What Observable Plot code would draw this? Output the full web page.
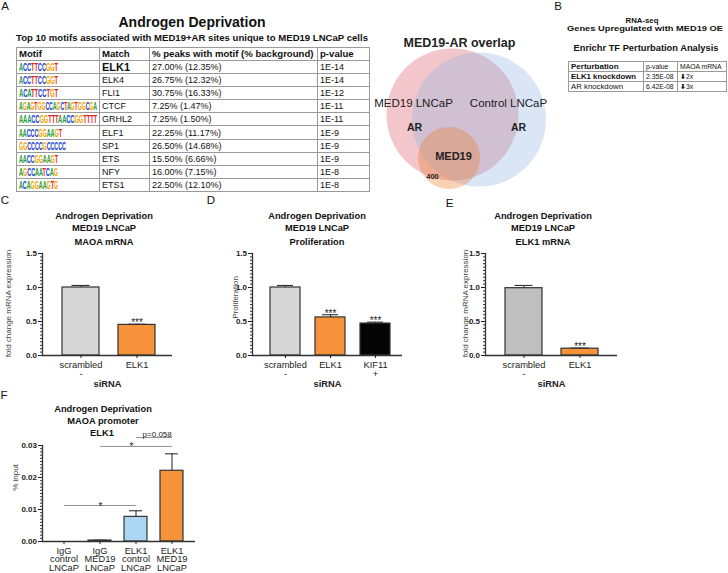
<!DOCTYPE html>
<html><head><meta charset="utf-8">
<script src="https://cdn.jsdelivr.net/npm/d3@7"></script>
<script src="https://cdn.jsdelivr.net/npm/@observablehq/plot@0.6"></script>
<style>
body{margin:0;background:#fff;font-family:"Liberation Sans",Arial,Helvetica,sans-serif;color:#111}
#fig{position:relative;width:728px;height:573px;overflow:hidden;background:#fff}
.abs{position:absolute;white-space:nowrap;line-height:1}
.plot{position:absolute}
table{position:absolute;border-collapse:collapse;table-layout:fixed}
td{border:1px solid #9a9a9a;padding:0 0 0 2px;white-space:nowrap;overflow:hidden;vertical-align:middle}
.logo{display:inline-block;transform-origin:left center;font-weight:bold;font-size:9.5px;letter-spacing:-0.2px;line-height:1}
</style></head><body><div id="fig"></div>
<script>
// ================= DATA =================
// Panel A: motif table
const motifLogos = ["ACCTTCCGGT","ACCTTCCGGT","ACATTCCTGT","AGAGTGGCCAGCTAGTGGCGA","AAACCGGTTTAACCGGTTTT","AACCCGGAAGT","GGCCCCGCCCCC","AACCGGAAGT","AGCCAATCAG","ACAGGAAGTG"];
const motifMatches = ["ELK1","ELK4","FLI1","CTCF","GRHL2","ELF1","SP1","ETS","NFY","ETS1"];
const motifPeaks = ["27.00% (12.35%)","26.75% (12.32%)","30.75% (16.33%)","7.25% (1.47%)","7.25% (1.50%)","22.25% (11.17%)","26.50% (14.68%)","15.50% (6.66%)","16.00% (7.15%)","22.50% (12.10%)"];
const motifPvals = ["1E-14","1E-14","1E-12","1E-11","1E-11","1E-9","1E-9","1E-9","1E-8","1E-8"];
const motifHeader = ["Motif","Match","% peaks with motif (% background)","p-value"];

// Panel B: Enrichr table
const enrHeader = ["Perturbation","p-value","MAOA mRNA"];
const enrPert = ["ELK1 knockdown","AR knockdown"];
const enrP = ["2.35E-08","6.42E-08"];
const enrFold = ["2x","3x"];

// Venn (geometry in abstract units)
const vennSets = ["MED19 LNCaP AR","Control LNCaP AR","MED19"];
const vennCx = [0, 26.5, -3.5];
const vennCy = [0, 5, 43.5];
const vennR = [66, 67, 31];
const vennCount = "400";

// Panel C
const cCats = ["scrambled","ELK1"];
const cXLabels = ["scrambled\n-","ELK1"];
const cValues = [1.00, 0.45];
const cErrors = [0.03, 0.01];
const cSig = ["", "***"];

// Panel D
const dCats = ["scrambled","ELK1","KIF11"];
const dXLabels = ["scrambled\n-","ELK1","KIF11\n+"];
const dValues = [1.00, 0.56, 0.47];
const dErrors = [0.03, 0.04, 0.02];
const dSig = ["", "***", "***"];

// Panel E
const eCats = ["scrambled","ELK1"];
const eXLabels = ["scrambled\n-","ELK1"];
const eValues = [0.99, 0.10];
const eErrors = [0.04, 0.01];
const eSig = ["", "***"];

// Panel F
const fCats = ["IgG control","IgG MED19","ELK1 control","ELK1 MED19"];
const fXLabels = ["IgG\ncontrol\nLNCaP","IgG\nMED19\nLNCaP","ELK1\ncontrol\nLNCaP","ELK1\nMED19\nLNCaP"];
const fValues = [0.0000, 0.0003, 0.0077, 0.0221];
const fErrors = [0.0000, 0.0001, 0.0019, 0.0053];
const fSigFrom = ["IgG control","IgG MED19","ELK1 control"];
const fSigTo = ["ELK1 control","ELK1 MED19","ELK1 MED19"];
const fSigY = [0.01125, 0.0297, 0.0325];
const fSigLabel = ["*","*","p=0.058"];

const yTicks15 = [0, 0.5, 1.0, 1.5];
const yTicksF = [0, 0.01, 0.02, 0.03];

// ================= LAYOUT =================
const fig = document.getElementById("fig");
const FONT = '"Liberation Sans", Arial, Helvetica, sans-serif';

function put(txt, cx, cy, css, fitW) {
  const d = document.createElement("div");
  d.className = "abs";
  d.textContent = txt;
  d.style.cssText += `left:${cx}px;top:${cy}px;` + (css || "");
  fig.appendChild(d);
  const w = d.getBoundingClientRect().width;
  const sx = fitW ? fitW / w : 1;
  d.style.transform = `translate(-50%,-50%) scaleX(${sx})`;
  return d;
}

// panel letters
put("A", 5, 7, "font-size:11.5px");
put("B", 558, 7, "font-size:11.5px");
put("C", 5, 201, "font-size:11.5px");
put("D", 211, 201, "font-size:11.5px");
put("E", 449.5, 204, "font-size:11.5px");
put("F", 4, 396, "font-size:11.5px");

// ---- Panel A ----
put("Androgen Deprivation", 192, 22, "font-size:14.5px;font-weight:bold", 147);
put("Top 10 motifs associated with MED19+AR sites unique to MED19 LNCaP cells", 192, 37.5, "font-size:8.7px;font-weight:bold", 352);

const baseColors = {A:"#1f9e3a", C:"#2040d0", G:"#f0a400", T:"#e02020"};
function logoHTML(seq) {
  return `<span class="logo">` + [...seq].map(ch => `<span style="color:${baseColors[ch]}">${ch}</span>`).join("") + `</span>`;
}
(function motifTable(){
  const t = document.createElement("table");
  t.style.cssText = "left:16px;top:47px;width:353px;font-size:9px";
  const colW = [83, 50, 168, 52];
  let html = "<colgroup>" + colW.map(w => `<col style="width:${w}px">`).join("") + "</colgroup>";
  html += "<tr>" + motifHeader.map(h => `<td style="height:11.5px;font-weight:bold;font-size:9.6px">${h}</td>`).join("") + "</tr>";
  motifMatches.forEach((m, i) => {
    const matchCss = i === 0 ? "font-weight:bold;font-size:11px" : "";
    html += `<tr><td style="height:12.2px">${logoHTML(motifLogos[i])}</td><td style="${matchCss}">${m}</td><td>${motifPeaks[i]}</td><td>${motifPvals[i]}</td></tr>`;
  });
  t.innerHTML = html;
  fig.appendChild(t);
  t.querySelectorAll(".logo").forEach((el, i) => {
    const w = el.getBoundingClientRect().width;
    const target = Math.min(motifLogos[i].length * 3.9, 78);
    el.style.transform = `scaleX(${target / w}) scaleY(1.2)`;
  });
})();

// ---- Panel B ----
put("RNA-seq", 642, 20.5, "font-size:7.8px;font-weight:bold");
put("Genes Upregulated with MED19 OE", 645, 28.5, "font-size:7.8px;font-weight:bold", 156);
put("Enrichr TF Perturbation Analysis", 645.5, 49, "font-size:8.2px;font-weight:bold", 145);
(function enrTable(){
  const t = document.createElement("table");
  t.style.cssText = "left:568px;top:61px;width:158px;font-size:6.8px";
  const colW = [75, 34, 49];
  let html = "<colgroup>" + colW.map(w => `<col style="width:${w}px">`).join("") + "</colgroup>";
  html += `<tr><td style="height:8.6px;font-weight:bold;font-size:8px">${enrHeader[0]}</td><td>${enrHeader[1]}</td><td>${enrHeader[2]}</td></tr>`;
  enrPert.forEach((p, i) => {
    const css = i === 0 ? "font-weight:bold;font-size:7.8px" : "font-size:7.8px";
    html += `<tr><td style="height:8.6px;${css}">${p}</td><td>${enrP[i]}</td><td><span style="font-family:'DejaVu Sans';font-weight:bold;font-size:7px">&#x2B07;</span>${enrFold[i]}</td></tr>`;
  });
  t.innerHTML = html;
  fig.appendChild(t);
})();

// ---- Venn ----
(function venn(){
  const vennFill = ["#e07880", "#8db2e2", "#ec7a2a"];
  const vennOp = [0.42, 0.32, 0.34];
  const data = vennSets.map((s, i) => ({set: s, x: vennCx[i], y: vennCy[i], r: vennR[i], fill: vennFill[i], op: vennOp[i]}));
  const red = data[0], blue = data[1], orange = data[2];
  const labels = [
    {t: "MED19-AR overlap", x: red.x + 7, y: red.y - 72, s: 12.5, w: "bold"},
    {t: "MED19 LNCaP", x: red.x - 39, y: red.y - 11, s: 11.5, w: "normal"},
    {t: "Control LNCaP", x: blue.x + 29.5, y: blue.y - 16, s: 11.5, w: "normal"},
    {t: "AR", x: red.x - 38, y: red.y + 13, s: 10.5, w: "bold"},
    {t: "AR", x: blue.x + 39.5, y: blue.y + 8, s: 10.5, w: "bold"},
    {t: "MED19", x: orange.x + 4.5, y: orange.y - 1.5, s: 11, w: "bold"},
    {t: vennCount, x: orange.x - 16.5, y: orange.y + 18.5, s: 7.5, w: "bold"}
  ];
  const marks = data.map(d => Plot.dot([d], {x: "x", y: "y", r: "r", fill: d.fill, fillOpacity: d.op, stroke: null}));
  for (const l of labels) marks.push(Plot.text([l], {x: "x", y: "y", text: "t", fontSize: l.s, fontWeight: l.w, fill: "#222"}));
  const p = Plot.plot({
    width: 220, height: 180, margin: 0,
    x: {domain: [-92, 128], axis: null},
    y: {domain: [-84, 96], reverse: true, axis: null},
    r: {type: "identity"},
    style: {fontFamily: FONT, background: "transparent", overflow: "visible"},
    marks
  });
  p.classList.add("plot");
  p.style.left = "360px"; p.style.top = "30px";
  fig.appendChild(p);
})();

// ---- Bar charts ----
function barChart(cfg) {
  const data = cfg.cats.map((c, i) => ({cat: c, value: cfg.values[i], err: cfg.errors[i], fill: cfg.fills[i], sig: cfg.sigs ? cfg.sigs[i] : ""}));
  const withErr = data.filter(d => d.err > 0);
  const ax = "#333";
  const marks = [
    Plot.barY(data, {x: "cat", y: "value", fill: "fill", stroke: ax, strokeWidth: 1.2}),
    Plot.ruleX(withErr, {x: "cat", y1: "value", y2: d => d.value + d.err, stroke: ax, strokeWidth: 1.1}),
    Plot.tickY(withErr, {x: "cat", y: d => d.value + d.err, stroke: ax, strokeWidth: 1.1, insetLeft: cfg.capInset, insetRight: cfg.capInset}),
    Plot.text(data.filter(d => d.sig), {x: "cat", y: d => d.value + d.err, text: "sig", lineAnchor: "bottom", dy: cfg.sigDy, fontSize: 10, fill: "#222"}),
    Plot.ruleY([0], {stroke: ax, strokeWidth: 1.3}),
    Plot.frame({anchor: "left", stroke: ax, strokeWidth: 1.3}),
    Plot.axisY({ticks: cfg.yMinor, tickSize: 2, tickFormat: () => "", color: ax, label: null}),
    Plot.axisY({ticks: cfg.yTicks, tickSize: 4, tickPadding: 1.5, tickFormat: cfg.yFmt, fontWeight: "bold", fontSize: 8, color: "#222", label: null}),
    Plot.axisX({tickFormat: c => cfg.xLabels[cfg.cats.indexOf(c)], tickSize: 3, tickPadding: 3, fontSize: 9.3, lineHeight: cfg.lineHeight, color: "#222", label: null}),
    Plot.text([cfg.yLabel], {frameAnchor: "left", textAnchor: "middle", lineAnchor: "middle", rotate: -90, dx: cfg.yLabelDx, dy: cfg.yLabelDy, fontSize: 8, fill: "#444"})
  ];
  if (cfg.xTitle) marks.push(Plot.text([cfg.xTitle], {frameAnchor: "bottom", textAnchor: "middle", lineAnchor: "middle", dy: cfg.xTitleDy, fontWeight: "bold", fontSize: 9.3, fill: "#222"}));
  if (cfg.extra) marks.push(...cfg.extra);
  const p = Plot.plot({
    width: cfg.width, height: cfg.height,
    marginTop: cfg.mt, marginRight: cfg.mr, marginBottom: cfg.mb, marginLeft: cfg.ml,
    x: {domain: cfg.cats, range: cfg.xRange, paddingInner: cfg.pad, paddingOuter: cfg.pad / 2},
    y: {domain: cfg.yDomain},
    color: {type: "identity"},
    style: {fontFamily: FONT, background: "transparent", overflow: "visible", color: "#222"},
    marks
  });
  p.classList.add("plot");
  p.style.left = cfg.left + "px"; p.style.top = cfg.top + "px";
  fig.appendChild(p);
}

const minor15 = d3.range(0, 1.5001, 0.05);
const minorF = d3.range(0, 0.03001, 0.001);
const ORANGE = "#f5923a";

// Panel C
put("Androgen Deprivation", 104, 217, "font-size:9.3px;font-weight:bold");
put("MED19 LNCaP", 104, 229, "font-size:9.3px;font-weight:bold");
put("MAOA mRNA", 104, 243, "font-size:9.3px;font-weight:bold");
barChart({left: 0, top: 240, width: 185, height: 150, mt: 13, mr: 13, mb: 35, ml: 42,
  cats: cCats, xLabels: cXLabels, values: cValues, errors: cErrors, sigs: cSig,
  fills: ["#d6d6d6", ORANGE], xRange: [52, 164], pad: 0.34, capInset: 9.5, sigDy: 2,
  yDomain: [0, 1.5], yTicks: yTicks15, yMinor: minor15, yFmt: d3.format(".1f"),
  yLabel: "fold change mRNA expression", yLabelDx: -34, yLabelDy: -1,
  xTitle: "siRNA", xTitleDy: 29, lineHeight: 1.0});

// Panel D
put("Androgen Deprivation", 317, 217, "font-size:9.3px;font-weight:bold");
put("MED19 LNCaP", 317, 229, "font-size:9.3px;font-weight:bold");
put("Proliferation", 317, 243, "font-size:9.3px;font-weight:bold");
barChart({left: 215, top: 240, width: 192, height: 150, mt: 13, mr: 5, mb: 35, ml: 37,
  cats: dCats, xLabels: dXLabels, values: dValues, errors: dErrors, sigs: dSig,
  fills: ["#d6d6d6", ORANGE, "#050505"], xRange: [46.25, 182.75], pad: 0.34, capInset: 7, sigDy: 2,
  yDomain: [0, 1.5], yTicks: yTicks15, yMinor: minor15, yFmt: d3.format(".1f"),
  yLabel: "Proliferation", yLabelDx: -17, yLabelDy: -7,
  xTitle: "siRNA", xTitleDy: 29, lineHeight: 1.0});

// Panel E
put("Androgen Deprivation", 543, 217, "font-size:9.3px;font-weight:bold");
put("MED19 LNCaP", 543, 229, "font-size:9.3px;font-weight:bold");
put("ELK1 mRNA", 543, 243, "font-size:9.3px;font-weight:bold");
barChart({left: 445, top: 240, width: 180, height: 150, mt: 13, mr: 8, mb: 35, ml: 40,
  cats: eCats, xLabels: eXLabels, values: eValues, errors: eErrors, sigs: eSig,
  fills: ["#bfbfbf", ORANGE], xRange: [50.5, 162.5], pad: 0.34, capInset: 9.5, sigDy: 2,
  yDomain: [0, 1.5], yTicks: yTicks15, yMinor: minor15, yFmt: d3.format(".1f"),
  yLabel: "fold change mRNA expression", yLabelDx: -20, yLabelDy: -1,
  xTitle: "siRNA", xTitleDy: 29, lineHeight: 1.0});

// Panel F
put("Androgen Deprivation", 103, 410, "font-size:9.3px;font-weight:bold");
put("MAOA promoter", 103, 422, "font-size:9.3px;font-weight:bold");
put("ELK1", 102, 434, "font-size:9.3px;font-weight:bold");
(function(){
  const fRange = [44.8, 190.2];
  const step = (fRange[1] - fRange[0]) / fCats.length;
  const sig = fSigFrom.map((f, i) => ({from: f, to: fSigTo[i], y: fSigY[i], label: fSigLabel[i]}));
  const extra = [Plot.link(sig, {x1: "from", x2: "to", y1: "y", y2: "y", stroke: "#777", strokeWidth: 0.8})];
  sig.forEach(s => {
    const half = step * (fCats.indexOf(s.to) - fCats.indexOf(s.from)) / 2;
    const isStar = s.label === "*";
    extra.push(Plot.text([s], {x: "from", y: "y", text: "label", dx: half - (isStar && s.from === "IgG MED19" ? 5 : 0) + (isStar ? 0 : 3), dy: isStar ? 4 : -1, lineAnchor: "bottom", fontSize: isStar ? 10 : 8, fill: "#222"}));
  });
  barChart({left: 0, top: 395, width: 200, height: 178, mt: 50, mr: 5, mb: 32, ml: 42,
    cats: fCats, xLabels: fXLabels, values: fValues, errors: fErrors, sigs: null,
    fills: ["#d6d6d6", "#111", "#acd6f2", ORANGE], xRange: fRange, pad: 0.35, capInset: 5, sigDy: 0,
    yDomain: [0, 0.03], yTicks: yTicksF, yMinor: minorF, yFmt: d3.format(".2f"),
    yLabel: "% input", yLabelDx: -27, yLabelDy: -16,
    xTitle: null, lineHeight: 0.93, extra});
})();
</script></body></html>
